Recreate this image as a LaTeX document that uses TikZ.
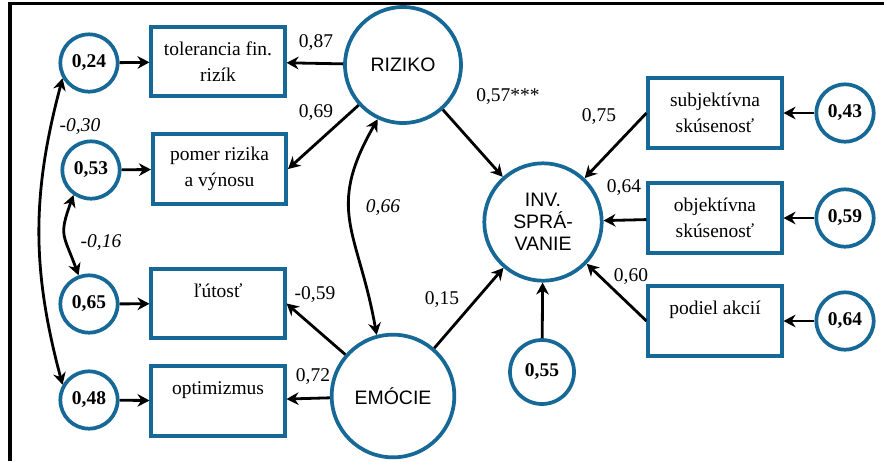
\documentclass[tikz,border=0pt]{standalone}
\usepackage{fontspec}
\setmainfont{Liberation Serif}
\setsansfont{Liberation Sans}
\usetikzlibrary{arrows.meta}
\definecolor{semblue}{RGB}{22,104,150}

\begin{document}
\begin{tikzpicture}[x=0.75pt,y=0.75pt,
  font=\fontsize{14.6pt}{19.5pt}\selectfont,
  err/.style={circle,draw=semblue,line width=2.8pt,minimum size=43pt,inner sep=0pt,font=\fontsize{14.6pt}{17pt}\selectfont\bfseries},
  lat/.style={circle,draw=semblue,line width=2.8pt,inner sep=0pt,align=center,font=\fontsize{14.6pt}{16.5pt}\selectfont\sffamily},
  ind/.style={rectangle,draw=semblue,line width=2.8pt,minimum width=100pt,minimum height=52pt,inner sep=2pt,align=center},
  arr/.style={-{Stealth[length=9pt,width=9.5pt]},line width=2.1pt},
  darr/.style={{Stealth[length=9pt,width=9.5pt]}-{Stealth[length=9pt,width=9.5pt]},line width=2.1pt},
  lbl/.style={inner sep=0pt},
  cor/.style={inner sep=0pt,font=\fontsize{14.6pt}{17pt}\selectfont\itshape}]
\useasboundingbox (0,0) rectangle (884,-461);
\draw[line width=2.6pt] (10,-461) -- (10,-3.5) -- (884,-3.5);

% latent variables
\node[lat,minimum size=87pt] (riziko) at (403,-65) {RIZIKO};
\node[lat,minimum size=92pt] (emocie) at (393,-396) {EMÓCIE};
\node[lat,minimum size=88pt] (inv) at (543,-222) {INV.\\SPRÁ-\\VANIE};

% indicators
\node[ind] (tol) at (218,-61.5) {tolerancia fin.\\rizík};
\node[ind] (pomer) at (219.5,-169) {pomer rizika\\a výnosu};
\node[ind] (lutost) at (218,-303.5) {ľútosť\\[0pt]\mbox{}};
\node[ind] (optim) at (218,-401) {optimizmus\\[0pt]\mbox{}};
\node[ind] (subj) at (715,-113) {subjektívna\\skúsenosť};
\node[ind] (obj) at (715,-218) {objektívna\\skúsenosť};
\node[ind] (podiel) at (715,-321) {podiel akcií\\[0pt]\mbox{}};

% errors
\node[err] (e024) at (89,-63) {0,24};
\node[err] (e053) at (91,-170) {0,53};
\node[err] (e065) at (89,-304) {0,65};
\node[err] (e048) at (89,-400) {0,48};
\node[err] (e043) at (845,-113) {0,43};
\node[err] (e059) at (845,-218) {0,59};
\node[err] (e064) at (845,-321) {0,64};
\node[err,minimum size=48pt] (e055) at (542,-372) {0,55};

\draw[arr] (e024) -- (tol);
\draw[arr] (e053) -- (pomer);
\draw[arr] (e065) -- (lutost);
\draw[arr] (e048) -- (optim);
\draw[arr] (e043) -- (subj);
\draw[arr] (e059) -- (obj);
\draw[arr] (e064) -- (podiel);
\draw[arr] (e055) -- (inv);

\draw[arr] (riziko) -- (tol) node[lbl] at (316,-43) {0,87};
\draw[arr] (riziko) -- (pomer.east) node[lbl] at (316,-113) {0,69};
\draw[arr] (riziko) -- (inv) node[lbl] at (508,-97) {0,57***};
\draw[arr] (emocie) -- (lutost.east) node[lbl] at (315,-295) {-0,59};
\draw[arr] (emocie) -- (optim) node[lbl] at (313,-377) {0,72};
\draw[arr] (emocie) -- (inv) node[lbl] at (442,-300) {0,15};
\draw[arr] (subj.west) -- (inv) node[lbl] at (599,-117) {0,75};
\draw[arr] (obj) -- (inv) node[lbl] at (624,-188) {0,64};
\draw[arr] (podiel.west) -- (inv) node[lbl] at (631,-277) {0,60};

% correlations
\draw[darr] (riziko.245) to[out=240,in=100,looseness=1.25] (emocie.105);
\node[cor] at (383,-208) {0,66};
\draw[darr] (e024.210) to[out=255,in=105] (e048.150);
\node[cor] at (80,-127) {-0,30};
\draw[darr] (e053.235) to[out=250,in=110,looseness=1.4] (e065.110);
\node[cor] at (101,-243) {-0,16};
\end{tikzpicture}
\end{document}
